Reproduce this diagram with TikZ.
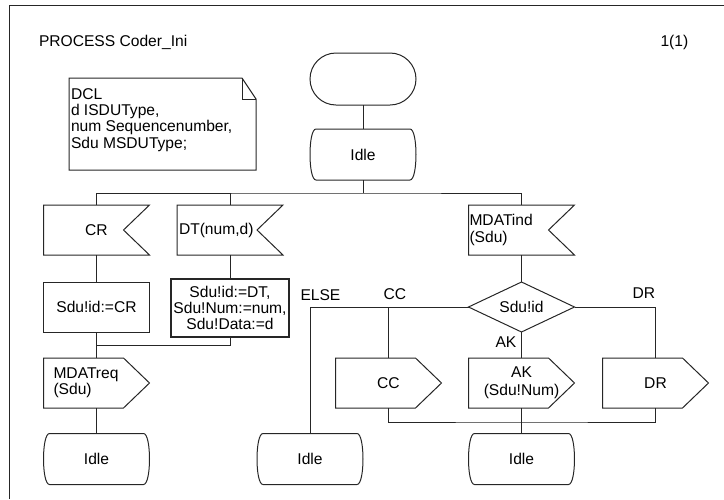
\documentclass[tikz,border=0pt]{standalone}
\usepackage{fontspec}
\setmainfont{Liberation Sans}
\usepackage{tikz}
\usetikzlibrary{shapes.geometric,shapes.misc,positioning}
\renewcommand{\arraystretch}{1.1}

\tikzset{
	sdl/.style={inner sep=0pt, outer sep=0pt, minimum width=106pt, minimum height=50pt},
	startbox/.style={sdl, draw, rounded rectangle, minimum height=52pt},
	taskbox/.style={sdl, draw, rectangle, align=center},
	decisionbox/.style={sdl, draw, diamond, aspect=2},
	flowtext/.style={inner sep=0pt, anchor=base west},
	statebox/.style={sdl, minimum height=51pt, append after command={\pgfextra{%
		\draw ([xshift=6pt]\tikzlastnode.north west) -- ([xshift=-6pt]\tikzlastnode.north east)
			.. controls ([xshift=2pt]\tikzlastnode.north east) and ([xshift=2pt]\tikzlastnode.south east) .. ([xshift=-6pt]\tikzlastnode.south east)
			-- ([xshift=6pt]\tikzlastnode.south west)
			.. controls ([xshift=-2pt]\tikzlastnode.south west) and ([xshift=-2pt]\tikzlastnode.north west) .. ([xshift=6pt]\tikzlastnode.north west) -- cycle;}}},
	inputbox/.style={sdl, append after command={\pgfextra{%
		\draw (\tikzlastnode.north west) -- (\tikzlastnode.north east) -- ([xshift=-26pt]\tikzlastnode.east)
			-- (\tikzlastnode.south east) -- (\tikzlastnode.south west) -- cycle;}}},
	outputbox/.style={sdl, append after command={\pgfextra{%
		\draw (\tikzlastnode.north west) -- ([xshift=-26pt]\tikzlastnode.north east) -- (\tikzlastnode.east)
			-- ([xshift=-26pt]\tikzlastnode.south east) -- (\tikzlastnode.south west) -- cycle;}}},
}

\begin{document}
\begin{tikzpicture}[x=1pt, y=-1pt, line width=1pt, draw=black!85, font=\fontsize{15.6pt}{16.3pt}\selectfont] % {{{
		\useasboundingbox (0,0) rectangle (724,499);
		\draw (9,499) -- (9,5) -- (724,5);
		\node[flowtext] (title) at (38.5,46.5) {PROCESS Coder\_Ini};
		\node[flowtext] (page) at (660,46.5) {1(1)};
		% Declarations {{{
		\draw (69,78) -- (242,78) -- (256,99) -- (256,170) -- (69,170) -- cycle;
		\draw (242,78) -- (242,99) -- (256,99);
		\node[anchor=north west, align=left, inner sep=0pt] (dcl) at (70.5,88) {DCL\\d ISDUType,\\num Sequencenumber,\\Sdu MSDUType;};
		% }}}
		% Start {{{
		\node[startbox] (start) at (363,79) {};
		\node[statebox] (idle) at (363,154.5) {Idle};
		\draw (start) -- (idle);
		\coordinate (bus) at (363,193);
		% }}}
		% Inputs {{{
		\node[inputbox] (cr) at (96.5,230) {CR};
		\node[inputbox, text width=102pt, align=left, inner xsep=2pt] (dt) at (230,230) {DT(num,d)};
		\node[inputbox, text width=104pt, align=left, inner xsep=1pt] (mdatind) at (521.5,230) {MDATind\\(Sdu)};
		\draw (idle) -- (bus);
		\draw (cr.north) |- (bus) -| (mdatind.north);
		\draw (dt.north) -- (dt.north |- bus);
		% }}}
		% CR and DT {{{
		\node[taskbox] (crtask) at (96.5,307) {Sdu!id:=CR};
		\node[taskbox, minimum width=118pt, minimum height=58pt, line width=2pt] (dttask) at (230,308) {Sdu!id:=DT,\\Sdu!Num:=num,\\Sdu!Data:=d};
		\node[outputbox, text width=86pt, align=left, inner xsep=10pt] (mdatreq) at (96.5,383) {MDATreq\\(Sdu)};
		\coordinate (join1) at (96.5,345);
		\draw (cr) -- (crtask);
		\draw (dt) -- (dttask);
		\draw (crtask) -- (mdatreq);
		\draw (dttask.south) |- (join1);
		% }}}
		% MDATind {{{
		\node[decisionbox] (dec) at (521.5,307) {Sdu!id};
		\foreach \n/\x/\t in {cc/388.5/CC, dr/655.5/DR} {
			\node[outputbox] (\n) at (\x,383) {\t};
		}
		\node[outputbox] (ak) at (521.5,383) {\begin{tabular}{@{}c@{}}AK\\(Sdu!Num)\end{tabular}\hspace{27pt}};
		\node[flowtext] (elselbl) at (300,300) {ELSE};
		\node[flowtext] (cclbl) at (383,299) {CC};
		\node[flowtext] (drlbl) at (632,298.5) {DR};
		\node[flowtext] (aklbl) at (495,347) {AK};
		\coordinate (join2) at (521.5,422);
		\draw (mdatind) -- (dec);
		\draw (cc.north) -- (cc.north |- dec.west);
		\draw (dec.east) -| (dr.north);
		\draw (dec) -- (ak);
		\draw (cc.south) |- (join2) -| (dr.south);
		% }}}
		% Idle states {{{
		\foreach \n/\x in {idlecr/96.5, idleelse/310, idleak/521.5} {
			\node[statebox] (\n) at (\x,459) {Idle};
		}
		\draw (mdatreq) -- (idlecr);
		\draw (dec.west) -| (idleelse.north);
		\draw (ak) -- (idleak);
		% }}}
\end{tikzpicture} % }}}
\end{document}
